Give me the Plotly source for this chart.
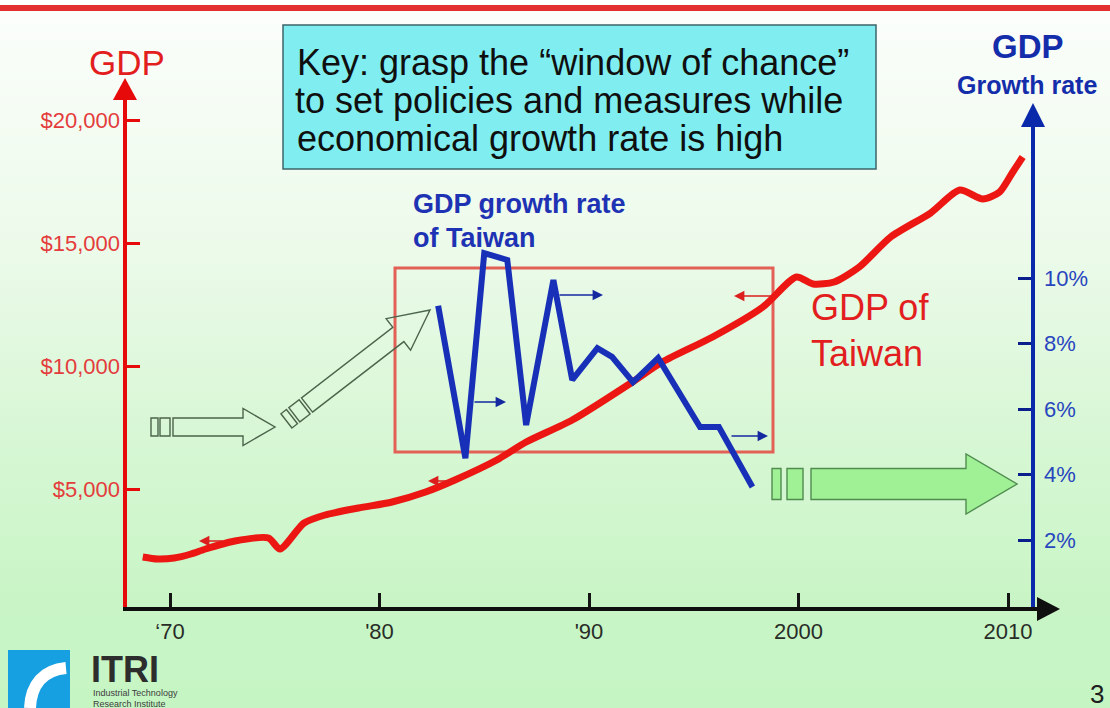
import math
import plotly.graph_objects as go

# ---------------- data ----------------
gdp_years = [1968.7, 1969.4, 1970.2, 1971.0, 1971.7, 1973.1, 1974.7, 1975.25, 1976.4,
             1977.4, 1979.0, 1980.6, 1982.2, 1983.6, 1985.6, 1987.0, 1989.2, 1992.0,
             1993.5, 1995.9, 1998.3, 1999.9, 2000.7, 2001.7, 2002.9, 2004.4, 2006.3,
             2007.7, 2008.8, 2009.6, 2010.2, 2010.7]
gdp_values = [2236, 2154, 2195, 2358, 2561, 2886, 3008, 2561, 3618,
              3943, 4228, 4472, 4878, 5366, 6179, 6911, 7805, 9309,
              10163, 11179, 12398, 13618, 13333, 13415, 14024, 15244, 16219,
              17154, 16788, 17073, 17845, 18496]

growth_years = [1982.8, 1984.1, 1985.0, 1986.1, 1987.0, 1988.3, 1989.2, 1990.4,
                1991.1, 1992.1, 1993.3, 1995.3, 1996.2, 1997.8]
growth_rates = [9.15, 4.50, 10.76, 10.55, 5.51, 9.94, 6.89, 7.86,
                7.59, 6.82, 7.56, 5.45, 5.45, 3.62]

x_tickvals = [1970, 1980, 1990, 2000, 2010]
x_ticktext = ["\u201870", "'80", "'90", "2000", "2010"]
gdp_tickvals = [5000, 10000, 15000, 20000]
gdp_ticktext = ["$5,000", "$10,000", "$15,000", "$20,000"]
rate_tickvals = [2, 4, 6, 8, 10]
rate_ticktext = ["2%", "4%", "6%", "8%", "10%"]

# ---------------- layout helpers ----------------
W, H = 1110, 708
L, R, T, B = 125, 1033, 78, 608
FONT = "Arial, Liberation Sans, sans-serif"
RED = "rgb(236,22,18)"
BLUE = "rgb(24,48,184)"


def px(x):
    return (x - L) / (R - L)


def py(y):
    return (B - y) / (B - T)


def path_of(pts):
    s = "M " + " L ".join(f"{px(x):.5f},{py(y):.5f}" for x, y in pts) + " Z"
    return s


shapes = []

# background gradient (light white-green to green)
stops = [(0, (252, 254, 252)), (250, (236, 250, 234)), (450, (214, 247, 211)),
         (600, (201, 245, 198)), (708, (198, 245, 196))]


def grad(y):
    for (y0, c0), (y1, c1) in zip(stops[:-1], stops[1:]):
        if y0 <= y <= y1:
            t = (y - y0) / (y1 - y0)
            return tuple(int(round(a + (b - a) * t)) for a, b in zip(c0, c1))
    return stops[-1][1]


step = 8
y = 0
while y < H:
    c = grad(y + step / 2)
    shapes.append(dict(type="rect", xref="paper", yref="paper",
                       x0=px(0), x1=px(W), y0=py(y + step + 0.5), y1=py(y),
                       fillcolor=f"rgb{c}", line=dict(width=0), layer="below"))
    y += step

# top title rule
shapes.append(dict(type="rect", xref="paper", yref="paper", x0=px(0), x1=px(W),
                   y0=py(0), y1=py(4), fillcolor="white", line=dict(width=0), layer="below"))
shapes.append(dict(type="line", xref="paper", yref="paper", x0=px(0), x1=px(W),
                   y0=py(8), y1=py(8), line=dict(color="rgb(228,48,48)", width=6), layer="below"))

# cyan key box
shapes.append(dict(type="rect", xref="paper", yref="paper", x0=px(283), x1=px(876),
                   y0=py(169), y1=py(25), fillcolor="rgb(128,238,240)",
                   line=dict(color="rgb(60,100,105)", width=1.5), layer="below"))

# red highlight rectangle
shapes.append(dict(type="rect", xref="paper", yref="paper", x0=px(395), x1=px(773),
                   y0=py(452), y1=py(268), fillcolor="rgba(0,0,0,0)",
                   line=dict(color="rgb(226,96,86)", width=3), layer="below"))


def block_arrow(tail, tip, sw, hw, hl, pieces, fill, edge, lw=1.4):
    tx, ty = tail
    hx, hy = tip
    dx, dy = hx - tx, hy - ty
    ln = math.hypot(dx, dy)
    ux, uy = dx / ln, dy / ln
    nx, ny = -uy, ux
    bx, by = hx - ux * hl, hy - uy * hl
    pts = [(tx + nx * sw / 2, ty + ny * sw / 2), (bx + nx * sw / 2, by + ny * sw / 2),
           (bx + nx * hw / 2, by + ny * hw / 2), (hx, hy),
           (bx - nx * hw / 2, by - ny * hw / 2), (bx - nx * sw / 2, by - ny * sw / 2),
           (tx - nx * sw / 2, ty - ny * sw / 2)]
    shapes.append(dict(type="path", xref="paper", yref="paper", path=path_of(pts),
                       fillcolor=fill, line=dict(color=edge, width=lw), layer="below"))
    for s0, s1 in pieces:
        ax0, ay0 = tx + ux * s0, ty + uy * s0
        ax1, ay1 = tx + ux * s1, ty + uy * s1
        q = [(ax0 + nx * sw / 2, ay0 + ny * sw / 2), (ax1 + nx * sw / 2, ay1 + ny * sw / 2),
             (ax1 - nx * sw / 2, ay1 - ny * sw / 2), (ax0 - nx * sw / 2, ay0 - ny * sw / 2)]
        shapes.append(dict(type="path", xref="paper", yref="paper", path=path_of(q),
                           fillcolor=fill, line=dict(color=edge, width=lw), layer="below"))


# hollow arrows (left) and green arrow (right)
block_arrow((173, 427), (275, 427), 18, 37, 32, [(-22, -15), (-13, -3)],
            "rgba(0,0,0,0)", "rgb(75,100,75)")
block_arrow((307, 405), (430, 310), 18, 40, 40, [(-26, -19), (-16, -3)],
            "rgba(0,0,0,0)", "rgb(75,100,75)")
block_arrow((811, 484), (1017, 484), 31, 60, 51, [(-39, -30), (-24, -8)],
            "rgb(160,240,150)", "rgb(80,140,80)")

# axes drawn as lines with arrowheads
shapes.append(dict(type="line", xref="paper", yref="paper", x0=px(125), x1=px(125),
                   y0=py(609), y1=py(96), line=dict(color="rgb(230,10,10)", width=4)))
shapes.append(dict(type="path", xref="paper", yref="paper",
                   path=path_of([(125, 78), (113, 100), (137, 100)]),
                   fillcolor="rgb(230,10,10)", line=dict(width=0)))
shapes.append(dict(type="line", xref="paper", yref="paper", x0=px(1033), x1=px(1033),
                   y0=py(609), y1=py(122), line=dict(color="rgb(10,40,170)", width=4)))
shapes.append(dict(type="path", xref="paper", yref="paper",
                   path=path_of([(1033, 103), (1021, 127), (1045, 127)]),
                   fillcolor="rgb(10,40,170)", line=dict(width=0)))
shapes.append(dict(type="line", xref="paper", yref="paper", x0=px(123), x1=px(1042),
                   y0=py(609), y1=py(609), line=dict(color="rgb(15,15,15)", width=4)))
shapes.append(dict(type="path", xref="paper", yref="paper",
                   path=path_of([(1060, 609), (1037, 597), (1037, 621)]),
                   fillcolor="rgb(15,15,15)", line=dict(width=0)))

# ITRI logo
shapes.append(dict(type="rect", xref="paper", yref="paper", x0=px(8), x1=px(70),
                   y0=py(708), y1=py(650), fillcolor="rgb(22,160,226)", line=dict(width=0)))
shapes.append(dict(type="path", xref="paper", yref="paper",
                   path=(f"M {px(30):.5f},{py(708):.5f} C {px(31):.5f},{py(684):.5f} "
                         f"{px(44):.5f},{py(670):.5f} {px(66):.5f},{py(668):.5f}"),
                   fillcolor="rgba(0,0,0,0)", line=dict(color="white", width=12)))

# ---------------- figure ----------------
fig = go.Figure()
fig.add_trace(go.Scatter(x=growth_years, y=growth_rates, yaxis="y2", mode="lines",
                         line=dict(color=BLUE, width=6), hoverinfo="skip", showlegend=False))
fig.add_trace(go.Scatter(x=gdp_years, y=gdp_values, mode="lines",
                         line=dict(color=RED, width=7, shape="spline", smoothing=0.7),
                         hoverinfo="skip", showlegend=False))

ann = []


def text(x, y, s, size, color, bold=False, xanchor="center", yanchor="middle"):
    ann.append(dict(xref="paper", yref="paper", x=px(x), y=py(y), text=(f"<b>{s}</b>" if bold else s),
                    showarrow=False, xanchor=xanchor, yanchor=yanchor,
                    font=dict(family=FONT, size=size, color=color)))


# key box text
text(295, 62, "Key: grasp the \u201cwindow of chance\u201d", 36, "rgb(15,15,15)", xanchor="left")
text(293, 100, "to set policies and measures while", 36, "rgb(15,15,15)", xanchor="left")
text(295, 138, "economical growth rate is high", 36, "rgb(15,15,15)", xanchor="left")

# axis titles
text(127, 62, "GDP", 35, "rgb(226,30,30)")
text(1028, 46, "GDP", 33, "rgb(20,45,170)", bold=True)
text(1027, 85, "Growth rate", 25, "rgb(20,45,170)", bold=True)

# series labels
text(411, 204, "GDP growth rate", 27, "rgb(30,50,180)", bold=True, xanchor="left")
text(411, 238, "of Taiwan", 27, "rgb(30,50,180)", bold=True, xanchor="left")
text(809, 307, "GDP of", 36, "rgb(226,30,30)", xanchor="left")
text(809, 353, "Taiwan", 36, "rgb(226,30,30)", xanchor="left")

# logo text and page number
text(89, 669, "ITRI", 36, "rgb(45,45,45)", bold=True, xanchor="left")
text(91, 693, "Industrial Technology", 9, "rgb(60,60,60)", xanchor="left")
text(91, 704, "Research Institute", 9, "rgb(60,60,60)", xanchor="left")
text(1097, 694, "3", 26, "rgb(30,30,30)")


def small_arrow(tail, tip, color):
    ann.append(dict(xref="paper", yref="paper", x=px(tip[0]), y=py(tip[1]),
                    ax=tail[0] - tip[0], ay=tail[1] - tip[1], text="", showarrow=True,
                    arrowhead=2, arrowsize=1.3, arrowwidth=1.6, arrowcolor=color))


small_arrow((558, 295), (603, 295), "rgb(20,40,160)")
small_arrow((473, 402), (506, 402), "rgb(20,40,160)")
small_arrow((730, 436), (768, 436), "rgb(20,40,160)")
small_arrow((773, 296), (734, 296), "rgb(220,30,30)")
small_arrow((454, 481), (428, 481), "rgb(220,30,30)")
small_arrow((224, 541), (199, 541), "rgb(220,30,30)")

x_min = 1970 - (170 - L) / 20.95
x_max = 1970 + (R - 170) / 20.95
gdp_per_px = 40.65
rate_per_px = 1 / 32.75

fig.update_layout(
    width=W, height=H,
    margin=dict(l=L, r=W - R, t=T, b=H - B, pad=0),
    paper_bgcolor="rgb(198,245,196)",
    plot_bgcolor="rgba(0,0,0,0)",
    shapes=shapes,
    annotations=ann,
    showlegend=False,
    xaxis=dict(range=[x_min, x_max], tickvals=x_tickvals, ticktext=x_ticktext,
               ticks="inside", ticklen=15, tickwidth=3, tickcolor="rgb(20,20,20)",
               showgrid=False, zeroline=False, showline=False, fixedrange=True,
               ticklabelstandoff=8,
               tickfont=dict(family=FONT, size=22, color="rgb(40,45,40)")),
    yaxis=dict(range=[(612 - B) * gdp_per_px, (612 - T) * gdp_per_px],
               tickvals=gdp_tickvals, ticktext=gdp_ticktext,
               ticks="inside", ticklen=15, tickwidth=3, tickcolor="rgb(230,10,10)",
               showgrid=False, zeroline=False, showline=False, fixedrange=True,
               ticklabelstandoff=4,
               tickfont=dict(family=FONT, size=22, color="rgb(228,60,60)")),
    yaxis2=dict(range=[(605.5 - B) * rate_per_px, (605.5 - T) * rate_per_px],
                overlaying="y", side="right",
                tickvals=rate_tickvals, ticktext=rate_ticktext,
                ticks="inside", ticklen=15, tickwidth=3, tickcolor="rgb(10,30,140)",
                showgrid=False, zeroline=False, showline=False, fixedrange=True,
                ticklabelstandoff=10,
                tickfont=dict(family=FONT, size=22, color="rgb(40,70,190)")),
)

fig.write_html("out.html")
